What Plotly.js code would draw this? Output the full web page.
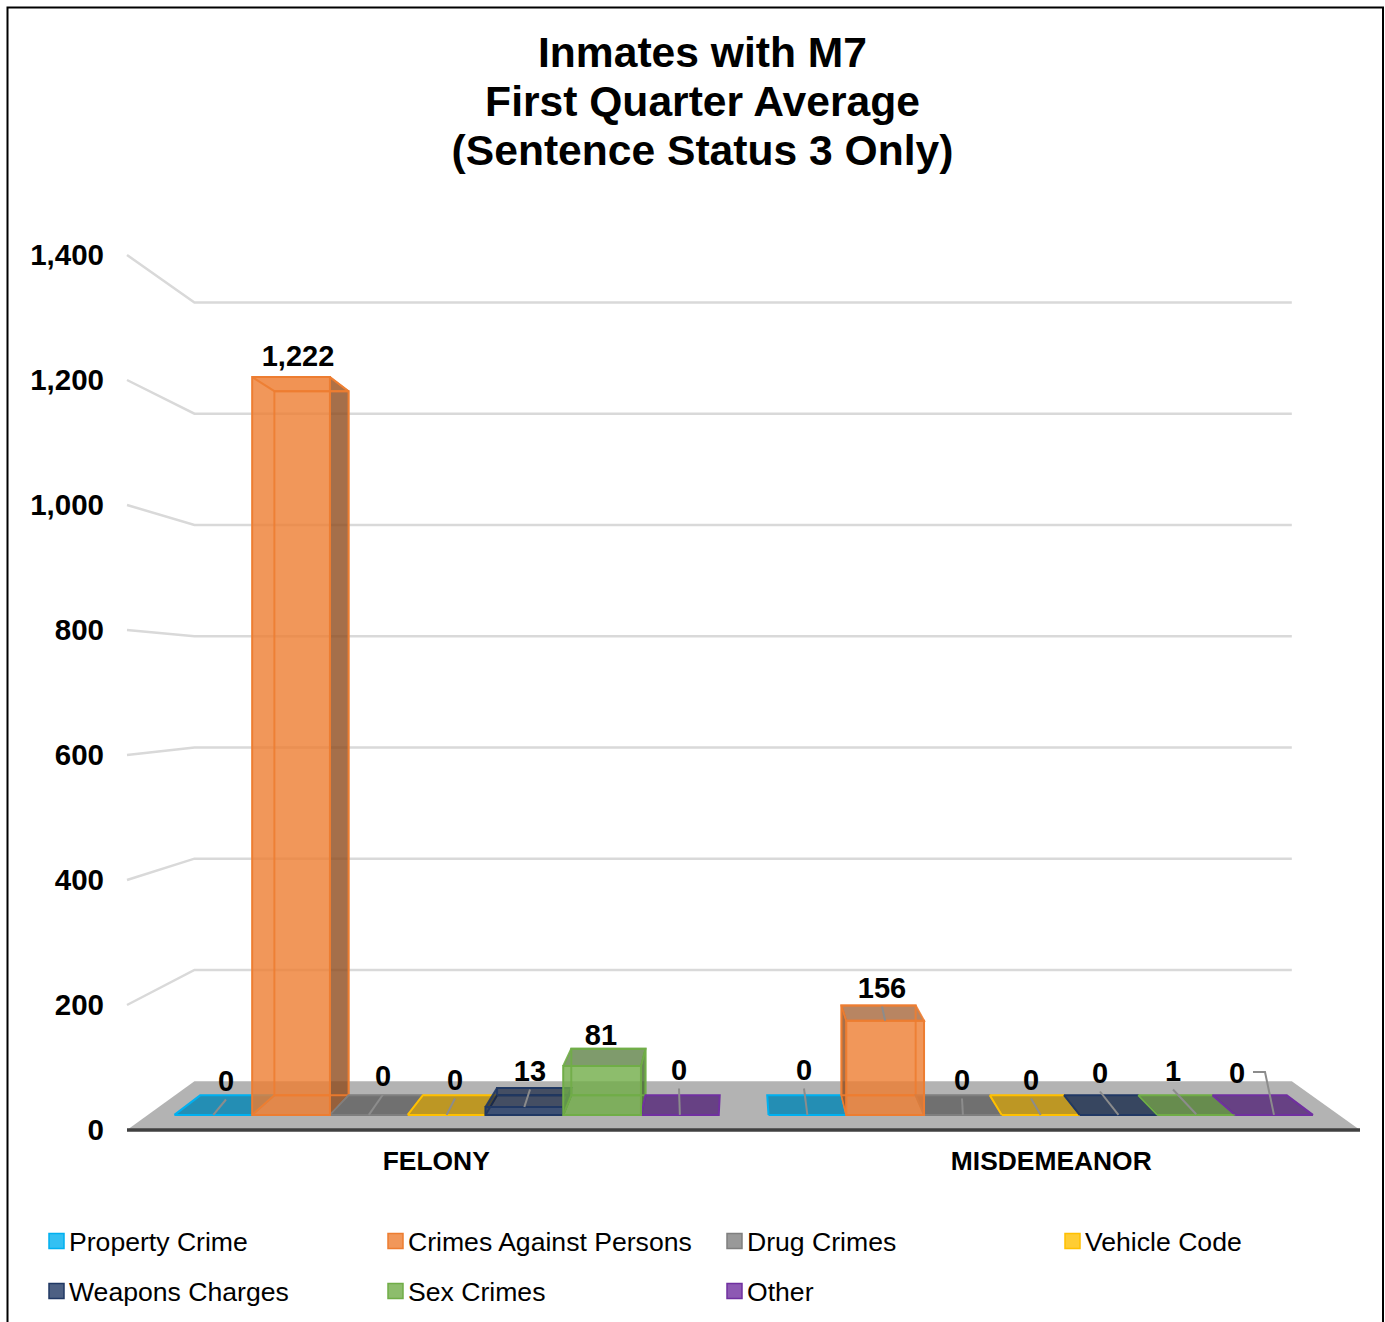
<!DOCTYPE html>
<html>
<head>
<meta charset="utf-8">
<script src="https://cdn.plot.ly/plotly-3.0.1.min.js"></script>
<style>html,body{margin:0;padding:0;background:#fff;overflow:hidden}</style>
</head>
<body>
<div id="chart" style="width:1385px;height:1322px"></div>
<script>
// ---------- chart data ----------
const categories = ['FELONY', 'MISDEMEANOR'];
const seriesNames = ['Property Crime', 'Crimes Against Persons', 'Drug Crimes', 'Vehicle Code', 'Weapons Charges', 'Sex Crimes', 'Other'];
const propertyCrime = [0, 0];
const crimesAgainstPersons = [1222, 156];
const drugCrimes = [0, 0];
const vehicleCode = [0, 0];
const weaponsCharges = [13, 0];
const sexCrimes = [81, 1];
const other = [0, 0];
const yTickValues = [0, 200, 400, 600, 800, 1000, 1200, 1400];
const titleLines = ['Inmates with M7', 'First Quarter Average', '(Sentence Status 3 Only)'];

// ---------- styling ----------
const seriesColors = [[0,176,240],[237,125,49],[127,127,127],[255,192,0],[32,56,100],[112,173,71],[112,48,160]];
const FONT = '"Liberation Sans", Arial, sans-serif';
const W = 1385, H = 1322, L = 108, R = 1375, T = 225, B = 1143;

// Axis calibration: x axis counts column slots, y axis counts inmates on the front plane
const pxPerSlot = 80.5, pxOrigin = 154.5, y0 = 1130, pxPerUnit = 0.625;
const U = px => (px - pxOrigin) / pxPerSlot;
const V = py => (y0 - py) / pxPerUnit;
const xRange = [U(L), U(R)];
const yRange = [V(B), V(T)];
const xPaper = px => (px - L) / (R - L);
const yPaper = py => (B - py) / (B - T);

// Perspective projection towards a vanishing point
const vanishU = U(740), vanishV = V(686);
const kFront = 0.034, kBack = 0.078, kWall = 0.11;
const P = (u, v, k) => [u + k * (vanishU - u), v + k * (vanishV - v)];

const baseV = kFront * vanishV, scaleV = 1 - kFront;
const y2Range = yRange.map(v => (v - baseV) / scaleV);
const toY2 = v => (v - baseV) / scaleV;

const groupStart = [0, 7.64];
const allSeries = [propertyCrime, crimesAgainstPersons, drugCrimes, vehicleCode, weaponsCharges, sexCrimes, other];

const rgba = (c, a, m) => `rgba(${c.map(x => Math.round(x * (m === undefined ? 1 : m))).join(',')},${a})`;

const traces = [];
function poly(points, fill, line, width) {
  const closed = points.concat([points[0]]);
  traces.push({
    type: 'scatter', mode: 'lines', x: closed.map(p => p[0]), y: closed.map(p => p[1]),
    fill: 'toself', fillcolor: fill, line: {color: line, width: width === undefined ? 2 : width},
    hoverinfo: 'skip', showlegend: false
  });
}
function path(points, color, width, axis) {
  traces.push({
    type: 'scatter', mode: 'lines', x: points.map(p => p[0]), y: points.map(p => p[1]),
    yaxis: axis || 'y', line: {color: color, width: width}, connectgaps: false,
    hoverinfo: 'skip', showlegend: false
  });
}

// floor
const wallL = U(127), wallR = U(1360);
poly([P(wallL,0,0), P(wallR,0,0), P(wallR,0,kWall), P(wallL,0,kWall)], '#b3b3b3', '#b3b3b3', 0);

// gridlines: up the side wall, then along the back wall
yTickValues.filter(v => v > 0).forEach(v => {
  path([P(wallL,v,0), P(wallL,v,kWall), P(wallR,v,kWall)], '#d9d9d9', 2.5);
});
// front floor edge
path([P(wallL,0,0), P(wallR,0,0)], '#404040', 3.5);

// bars: floor tile, hidden faces, edges (front faces are bar traces further down)
categories.forEach((cat, g) => {
  allSeries.forEach((vals, s) => {
    const c = seriesColors[s], v = vals[g];
    const a = groupStart[g] + s, b = a + 1;
    const edge = rgba(c, 0.9);
    poly([P(a,0,kFront), P(b,0,kFront), P(b,0,kBack), P(a,0,kBack)],
         v >= 5 ? 'rgba(0,0,0,0)' : rgba(c, 0.8, 0.75), rgba(c, 1), 2);
    if (v >= 5) {
      const side = (a + b) / 2 < vanishU ? b : a;
      poly([P(side,0,kFront), P(side,v,kFront), P(side,v,kBack), P(side,0,kBack)], rgba(c, 0.8, 0.6), edge, 1.5);
      const topBehindAbove = P(a,v,kBack)[1] > P(a,v,kFront)[1];
      poly([P(a,v,kFront), P(b,v,kFront), P(b,v,kBack), P(a,v,kBack)],
           topBehindAbove ? rgba(c, 0.7, 0.65) : rgba(c, 0.15), edge, 2);
      path([P(a,0,kBack), P(a,v,kBack), P(b,v,kBack), P(b,0,kBack), P(a,0,kBack)], edge, 2);
    }
  });
});

// front faces drawn by the library's bar trace on a second value axis scaled for the front plane
allSeries.forEach((vals, s) => {
  const c = seriesColors[s];
  const lefts = groupStart.map((g) => P(g + s, 0, kFront)[0]);
  const rights = groupStart.map((g) => P(g + s + 1, 0, kFront)[0]);
  traces.push({
    type: 'bar', name: seriesNames[s], yaxis: 'y2',
    x: lefts.map((l, i) => (l + rights[i]) / 2),
    y: vals,
    width: lefts.map((l, i) => rights[i] - l),
    marker: {color: vals.map(v => v > 0 ? rgba(c, 0.8) : 'rgba(0,0,0,0)'),
             line: {color: vals.map(v => v > 0 ? rgba(c, 1) : 'rgba(0,0,0,0)'), width: vals.map(v => v >= 5 ? 2 : 0)}},
    hovertemplate: '%{y:,}<extra>' + seriesNames[s] + '</extra>',
    showlegend: false
  });
});

// data label centres (pixel positions of the hand-placed labels), by category then series
const labelX = [[226,298,383,455,530,601,679],[804,882,962,1031,1100,1173,1237]];
const labelY = [[1083.5,358.5,1078.5,1082.5,1073.5,1037.5,1072.5],[1072.5,990.5,1082.5,1082.5,1075.5,1073.5,1075.5]];
const noLeader = [[false,true,false,false,false,true,false],[false,false,false,false,false,false,false]];

const lblX = [], lblY = [], lblT = [];
categories.forEach((cat, g) => {
  allSeries.forEach((vals, s) => {
    const v = vals[g];
    const mid = groupStart[g] + s + 0.5;
    const end = P(mid, v, kFront);
    const lx = U(labelX[g][s]), ly = V(labelY[g][s]);
    if (!noLeader[g][s]) {
      let pts;
      if (g === 1 && s === 6) {
        pts = [[U(1253), V(1072)], [U(1265), V(1072)], end];
      } else {
        pts = [[lx, V(labelY[g][s] + 16)], end];
      }
      path(pts.map(p => [p[0], toY2(p[1])]), '#8c8c8c', 2, 'y2');
    }
    lblX.push(lx); lblY.push(toY2(ly)); lblT.push(v.toLocaleString('en-US'));
  });
});
traces.push({
  type: 'scatter', mode: 'text', x: lblX, y: lblY, text: lblT, yaxis: 'y2',
  textposition: 'middle center', cliponaxis: false,
  textfont: {family: FONT, size: 29, color: '#000', weight: 700},
  hoverinfo: 'skip', showlegend: false
});

// legend (four-column grid), built from the series arrays
const legendCols = [49, 388, 727, 1065], legendRows = [1241, 1291];
const shapes = [{type: 'rect', xref: 'paper', yref: 'paper', x0: xPaper(7.5), x1: xPaper(1383), y0: yPaper(7.5), y1: yPaper(1340),
                 line: {color: '#000', width: 2}, fillcolor: 'rgba(0,0,0,0)', layer: 'above'}];
const annotations = [];
seriesNames.forEach((name, s) => {
  const col = s % 4, row = Math.floor(s / 4);
  const sx = legendCols[col], sy = legendRows[row];
  shapes.push({type: 'rect', xref: 'paper', yref: 'paper', x0: xPaper(sx), x1: xPaper(sx + 15), y0: yPaper(sy - 7.5), y1: yPaper(sy + 7.5),
               fillcolor: rgba(seriesColors[s], 0.8), line: {color: rgba(seriesColors[s], 1), width: 1.5}});
  annotations.push({xref: 'paper', yref: 'paper', x: xPaper(sx + 17.5), y: yPaper(sy + 0.5), xanchor: 'left', yanchor: 'middle',
                    showarrow: false, text: name, font: {family: FONT, size: 26.6, color: '#000'}});
});

const titleSize = 42.6, titleLeading = 49;
const layout = {
  width: W, height: H,
  margin: {l: L, r: W - R, t: T, b: H - B, pad: 0},
  paper_bgcolor: '#fff', plot_bgcolor: 'rgba(0,0,0,0)',
  showlegend: false, barmode: 'overlay', dragmode: false, hovermode: 'closest',
  font: {family: FONT, color: '#000'},
  title: {
    text: titleLines.map(t => `<span style="font-size:${titleSize}px">${t}</span>`).join('<br>'),
    font: {family: FONT, size: titleLeading / 1.3, color: '#000', weight: 700},
    x: 702.5 / W, xanchor: 'center', xref: 'container',
    y: 1 - 67 / H, yanchor: 'top', yref: 'container'
  },
  xaxis: {
    range: xRange, tickmode: 'array',
    tickvals: groupStart.map(g => g + 3.5), ticktext: categories,
    tickfont: {family: FONT, size: 26.4, color: '#000', weight: 700},
    showgrid: false, zeroline: false, showline: false, ticks: ''
  },
  yaxis: {
    range: yRange, tickmode: 'array',
    tickvals: yTickValues, ticktext: yTickValues.map(v => v.toLocaleString('en-US')),
    tickfont: {family: FONT, size: 29.5, color: '#000', weight: 700},
    showgrid: false, zeroline: false, showline: false, ticks: '', ticklabelstandoff: 3
  },
  yaxis2: {
    overlaying: 'y', side: 'left', range: y2Range, visible: false,
    showgrid: false, zeroline: false
  },
  shapes: shapes,
  annotations: annotations
};
Plotly.newPlot('chart', traces, layout, {staticPlot: true, displayModeBar: false});
</script>
</body>
</html>
